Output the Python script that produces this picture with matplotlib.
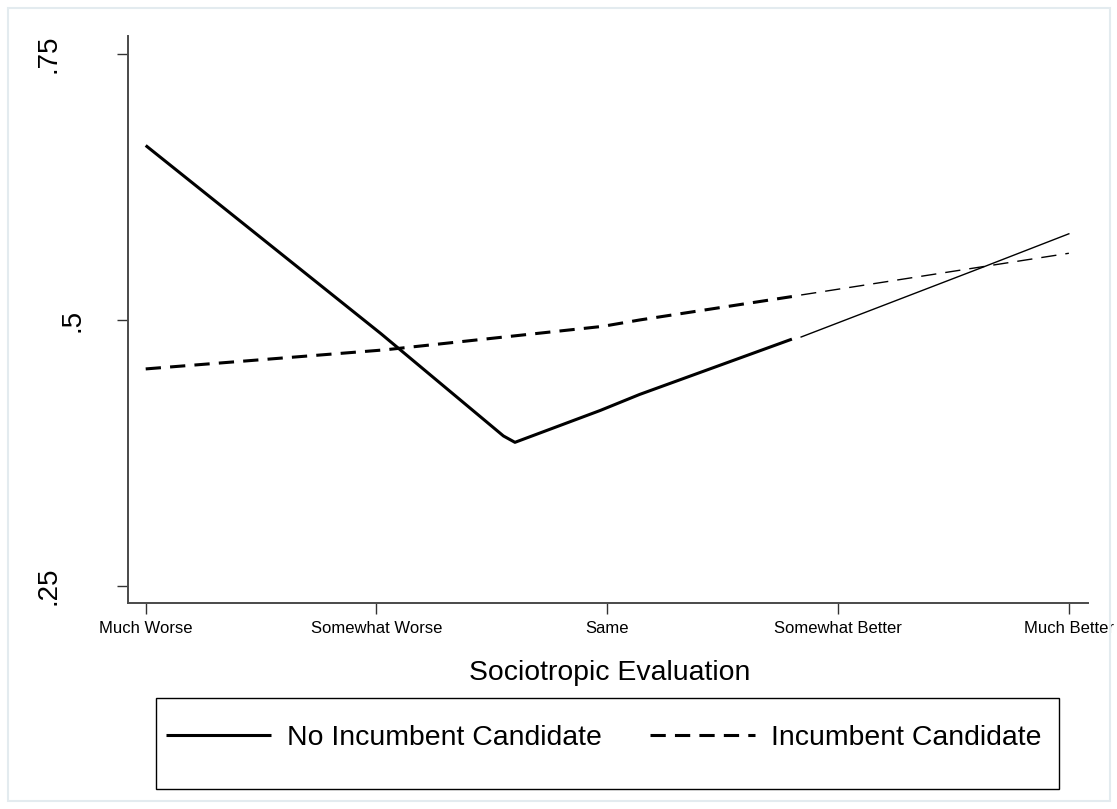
import matplotlib
matplotlib.use("Agg")
import matplotlib.pyplot as plt
from matplotlib.patches import Rectangle
from matplotlib.transforms import blended_transform_factory

plt.rcParams['font.family'] = ['Liberation Sans', 'DejaVu Sans']

# predicted probabilities by sociotropic evaluation (1 = much worse ... 5 = much better)
categories = ["Much Worse", "Somewhat Worse", "Same", "Somewhat Better", "Much Better"]

# no incumbent running: observed range and extrapolated tail
no_inc_x = [1.00, 2.02, 2.55, 2.60, 2.97, 3.14, 3.80]
no_inc_y = [0.664, 0.487, 0.391, 0.385, 0.415, 0.430, 0.482]
no_inc_tail_x = [3.84, 4.62, 5.00]
no_inc_tail_y = [0.484, 0.549, 0.581]

# incumbent running
inc_x = [1.00, 2.04, 2.98, 3.14, 3.80]
inc_y = [0.454, 0.472, 0.494, 0.500, 0.522]
inc_tail_x = [3.84, 5.00]
inc_tail_y = [0.5235, 0.5627]

ytick_vals = [0.25, 0.5, 0.75]
ytick_text = [".25", ".5", ".75"]

W, H = 1117, 809
fig = plt.figure(figsize=(W / 100, H / 100), dpi=100)
ax = fig.add_axes([127.7 / W, 1 - 603 / H, (1088 - 127.7) / W, (603 - 36) / H])

thick = 2.2
thin = 1.0
ax.plot(no_inc_x, no_inc_y, color="black", lw=thick, solid_capstyle="butt",
        solid_joinstyle="round", label="No Incumbent Candidate")
ax.plot(no_inc_tail_x, no_inc_tail_y, color="black", lw=thin)
ax.plot(inc_x, inc_y, color="black", lw=thick, linestyle=(0, (5, 3)),
        dash_capstyle="butt", label="Incumbent Candidate")
ax.plot(inc_tail_x, inc_tail_y, color="black", lw=thin, linestyle=(0, (11, 6.5)))

ax.set_xlim(0.922, 5.083)
ax.set_ylim(0.234, 0.7669)

for side in ["top", "right"]:
    ax.spines[side].set_visible(False)
for side in ["left", "bottom"]:
    ax.spines[side].set_color("#4a4a4a")
    ax.spines[side].set_linewidth(1.4)

ax.set_xticks(range(1, 6))
ax.set_xticklabels(categories, fontsize=12)
ax.set_yticks(ytick_vals)
ax.set_yticklabels([])
ax.tick_params(axis="both", direction="out", length=7.8, width=1.0, color="#333333")
ax.tick_params(axis="x", pad=5)

# vertical y labels, placed like the Stata output
ytf = blended_transform_factory(fig.transFigure, ax.transData)
ylab_x = {".25": 48.8, ".5": 72.5, ".75": 48.8}
for v, t in zip(ytick_vals, ytick_text):
    ax.text(ylab_x[t] / W, v, t, transform=ytf, rotation=90, ha="center",
            va="center", fontsize=20)

ax.set_xlabel("Sociotropic Evaluation", fontsize=20.4)
ax.xaxis.set_label_coords(0.5015, (603 - 680) / 567)
ax.xaxis.label.set_va("baseline")

# legend entries without their own frame; the box is drawn separately
leg = fig.legend(loc="center", bbox_to_anchor=(604 / W, 1 - 738 / H), ncol=2,
                 fontsize=20.4, handlelength=3.7, handletextpad=0.57,
                 columnspacing=1.7, borderpad=0.2, borderaxespad=0,
                 frameon=False)
fig.patches.append(Rectangle((155.6 / W, 1 - 789.3 / H), (1058.5 - 155.6) / W,
                             (789.3 - 697.7) / H, transform=fig.transFigure,
                             fill=False, edgecolor="black", lw=1.0))

# light outer frame
fig.patches.append(Rectangle((8 / W, 1 - 801 / H), (1110 - 8) / W, (801 - 8) / H,
                             transform=fig.transFigure, fill=False,
                             edgecolor="#e3ebef", lw=1.5))

fig.savefig("out.png", dpi=100)
